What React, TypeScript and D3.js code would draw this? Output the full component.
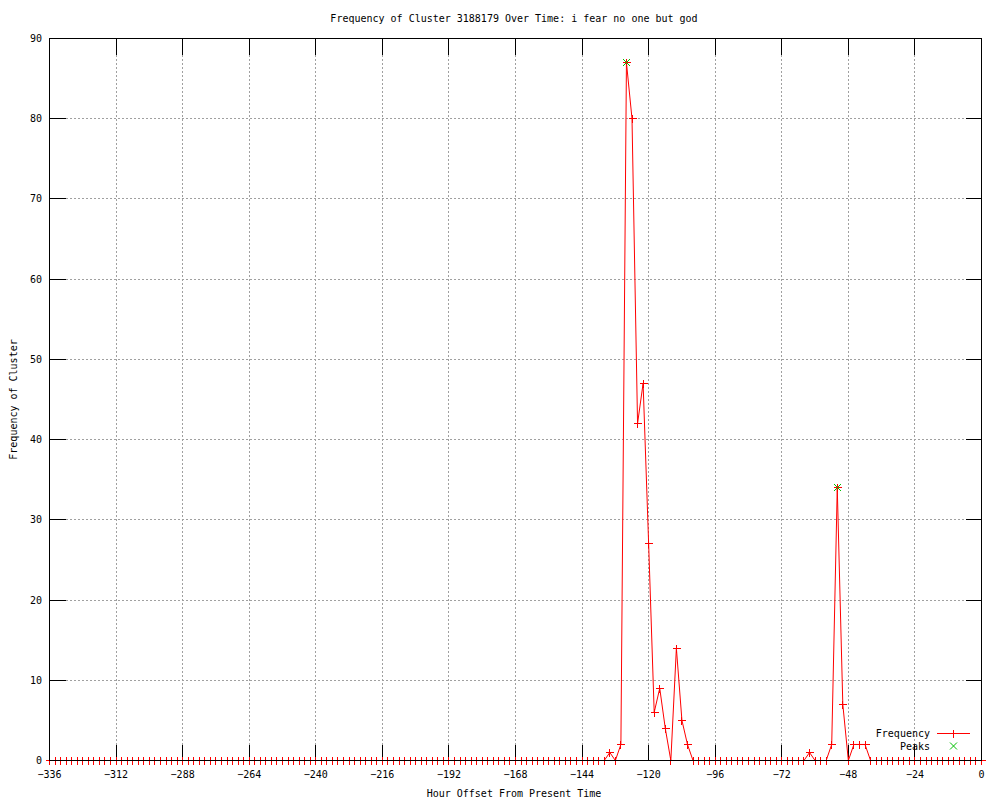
import React, { useEffect, useRef } from "react";
import * as d3 from "d3";

// hourly samples, every 2 hours from -336 to 0
const frequency = [
  0, 0, 0, 0, 0, 0, 0, 0, 0, 0, 0, 0, 0, 0, 0, 0, 0, 0, 0, 0,
  0, 0, 0, 0, 0, 0, 0, 0, 0, 0, 0, 0, 0, 0, 0, 0, 0, 0, 0, 0,
  0, 0, 0, 0, 0, 0, 0, 0, 0, 0, 0, 0, 0, 0, 0, 0, 0, 0, 0, 0,
  0, 0, 0, 0, 0, 0, 0, 0, 0, 0, 0, 0, 0, 0, 0, 0, 0, 0, 0, 0,
  0, 0, 0, 0, 0, 0, 0, 0, 0, 0, 0, 0, 0, 0, 0, 0, 0, 0, 0, 0,
  0, 1, 0, 2, 87, 80, 42, 47, 27, 6, 9, 4, 0, 14, 5, 2, 0,
  0, 0, 0, 0, 0, 0, 0, 0, 0, 0, 0, 0, 0, 0, 0, 0, 0, 0, 0, 0,
  1, 0, 0, 0, 2, 34, 7, 0, 2, 2, 2,
  0, 0, 0, 0, 0, 0, 0, 0, 0, 0, 0, 0, 0, 0, 0, 0, 0, 0, 0, 0, 0,
];
const hours = d3.range(-336, 1, 2);

const peakHours = [-128, -52];
const peakValues = [87, 34];

const xTicks = [-336, -312, -288, -264, -240, -216, -192, -168, -144, -120, -96, -72, -48, -24, 0];
const yTicks = [0, 10, 20, 30, 40, 50, 60, 70, 80, 90];

const title = "Frequency of Cluster 3188179 Over Time: i fear no one but god";
const xTitle = "Hour Offset From Present Time";
const yTitle = "Frequency of Cluster";

const App = () => {
  const svgRef = useRef<SVGSVGElement>(null);

  useEffect(() => {
    const width = 1000;
    const height = 800;
    const left = 49.5, right = 981.5, top = 38.5, bottom = 760.5;
    const font = "'DejaVu Sans Mono', monospace";
    const red = "#ff0000";
    const green = "#00c000";

    const svg = d3.select(svgRef.current);
    svg.selectAll("*").remove();
    svg.attr("width", width).attr("height", height);

    svg.append("rect").attr("width", width).attr("height", height).attr("fill", "#fff");

    const x = d3.scaleLinear().domain([-336, 0]).range([left, right]);
    const y = d3.scaleLinear().domain([0, 90]).range([bottom, top]);
    const px = (v: number) => Math.round(x(v) - 0.5) + 0.5;
    const py = (v: number) => Math.round(y(v) - 0.5) + 0.5;

    // grid
    const grid = svg.append("g")
      .attr("stroke", "#a0a0a0")
      .attr("stroke-dasharray", "2,2")
      .attr("shape-rendering", "crispEdges");
    xTicks.filter((t) => t !== -336 && t !== 0).forEach((t) => {
      grid.append("line").attr("x1", px(t)).attr("x2", px(t)).attr("y1", top).attr("y2", bottom);
    });
    yTicks.filter((t) => t !== 0 && t !== 90).forEach((t) => {
      grid.append("line").attr("x1", left).attr("x2", right).attr("y1", py(t)).attr("y2", py(t));
    });

    // major ticks
    const ticks = svg.append("g").attr("stroke", "#000").attr("shape-rendering", "crispEdges");
    xTicks.forEach((t) => {
      ticks.append("line").attr("x1", px(t)).attr("x2", px(t)).attr("y1", bottom).attr("y2", bottom - 16);
      ticks.append("line").attr("x1", px(t)).attr("x2", px(t)).attr("y1", top).attr("y2", top + 16);
    });
    yTicks.forEach((t) => {
      ticks.append("line").attr("x1", left).attr("x2", left + 16).attr("y1", py(t)).attr("y2", py(t));
      ticks.append("line").attr("x1", right).attr("x2", right - 16).attr("y1", py(t)).attr("y2", py(t));
    });

    // data line
    const points = frequency.map((v, i) => [hours[i], v] as [number, number]);
    const line = d3.line<[number, number]>()
      .x((d) => x(d[0]))
      .y((d) => y(d[1]));
    svg.append("path")
      .attr("d", line(points))
      .attr("fill", "none")
      .attr("stroke", red)
      .attr("stroke-width", 1);

    const plus = (g: any, cx: number, cy: number, color: string) => {
      g.append("path")
        .attr("d", `M${cx - 4},${cy}H${cx + 4}M${cx},${cy - 4}V${cy + 4}`)
        .attr("stroke", color)
        .attr("fill", "none")
        .attr("shape-rendering", "crispEdges");
    };
    const cross = (g: any, cx: number, cy: number, color: string) => {
      g.append("path")
        .attr("d", `M${cx - 3.5},${cy - 3.5}L${cx + 3.5},${cy + 3.5}M${cx - 3.5},${cy + 3.5}L${cx + 3.5},${cy - 3.5}`)
        .attr("stroke", color)
        .attr("fill", "none");
    };

    const marks = svg.append("g");
    points.forEach(([h, v]) => plus(marks, px(h), py(v), red));
    peakHours.forEach((h, i) => cross(marks, px(h), py(peakValues[i]), green));

    // border in front
    svg.append("rect")
      .attr("x", left).attr("y", top)
      .attr("width", right - left).attr("height", bottom - top)
      .attr("fill", "none").attr("stroke", "#000")
      .attr("shape-rendering", "crispEdges");

    const text = svg.append("g")
      .style("font-family", font)
      .style("font-size", "10px")
      .attr("fill", "#000");

    yTicks.forEach((t) => {
      text.append("text")
        .attr("x", 42).attr("y", y(t)).attr("dy", "0.35em")
        .attr("text-anchor", "end").text(t);
    });
    xTicks.forEach((t) => {
      text.append("text")
        .attr("x", x(t)).attr("y", 774).attr("dy", "0.35em")
        .attr("text-anchor", "middle").text(t === 0 ? "0" : `\u2212${Math.abs(t)}`);
    });

    text.append("text").attr("x", 514).attr("y", 18).attr("dy", "0.35em")
      .attr("text-anchor", "middle").text(title);
    text.append("text").attr("x", 514).attr("y", 793).attr("dy", "0.35em")
      .attr("text-anchor", "middle").text(xTitle);
    text.append("text")
      .attr("transform", `translate(13,${(top + bottom) / 2}) rotate(-90)`)
      .attr("dy", "0.35em")
      .attr("text-anchor", "middle").text(yTitle);

    // legend
    const legend = svg.append("g");
    legend.append("text").attr("x", 930).attr("y", 733).attr("dy", "0.35em")
      .attr("text-anchor", "end").style("font-family", font).style("font-size", "10px").text("Frequency");
    legend.append("line").attr("x1", 937).attr("x2", 970).attr("y1", 733.5).attr("y2", 733.5)
      .attr("stroke", red).attr("shape-rendering", "crispEdges");
    plus(legend, 953.5, 733.5, red);
    legend.append("text").attr("x", 930).attr("y", 746).attr("dy", "0.35em")
      .attr("text-anchor", "end").style("font-family", font).style("font-size", "10px").text("Peaks");
    cross(legend, 953.5, 746, green);
  }, []);

  return (
    <svg ref={svgRef} style={{ position: "absolute", left: 0, top: 0 }}></svg>
  );
};

export default App;
